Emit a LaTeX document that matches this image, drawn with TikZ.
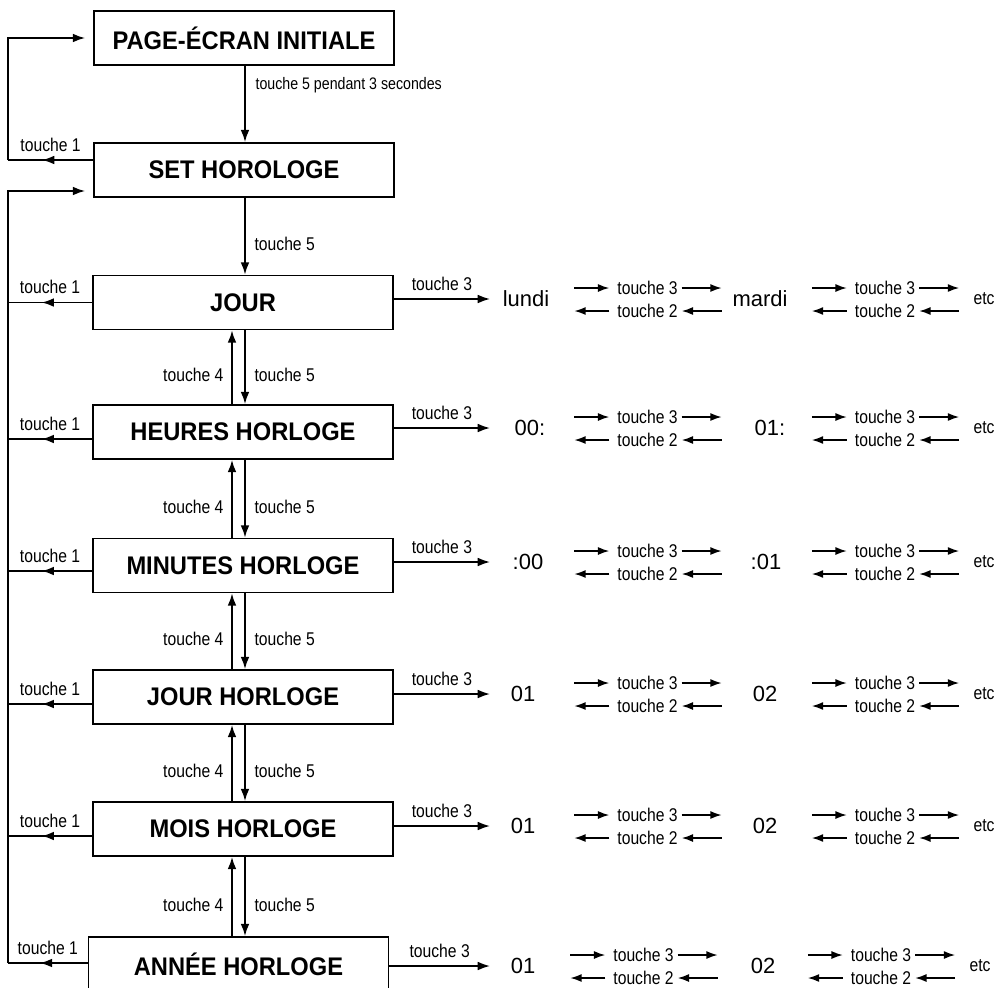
\documentclass[tikz,border=0pt]{standalone}
\usepackage{fontspec}
\setmainfont{Liberation Sans}
\newfontfamily\labfont[FakeStretch=0.85]{Liberation Sans}
\newfontfamily\ttlfont[FakeStretch=0.93]{Liberation Sans}
\usetikzlibrary{arrows.meta,decorations.markings,calc}
\begin{document}
\begin{tikzpicture}[x=0.02cm,y=-0.02cm,
  box/.style={draw,line width=1pt,minimum width=6cm,minimum height=1.08cm,inner sep=0pt,
    font=\ttlfont\bfseries\fontsize{14.5}{16}\selectfont},
  lab/.style={font=\labfont\fontsize{10.5}{12}\selectfont,inner sep=1pt},
  smalllab/.style={font=\labfont\fontsize{9.5}{11}\selectfont,inner sep=1pt},
  val/.style={font=\fontsize{12.5}{14}\selectfont,inner sep=1pt},
  arr/.style={line width=1pt,-{Latex[length=7pt,width=5pt]}},
  sarr/.style={line width=0.9pt,-{Latex[length=6.5pt,width=4.6pt]}},
  midarr/.style={line width=1pt,postaction={decorate},
    decoration={markings,mark=at position 0.6 with {\arrow{Latex[length=7pt,width=5pt]}}}}]
\useasboundingbox (0,0) rectangle (1000,987);
\fill[white] (0,0) rectangle (1000,987);
\clip (0,0) rectangle (1000,987);

% boxes
\node[box] (page) at (244,38) {PAGE-ÉCRAN INITIALE};
\node[box] (set) at (244,170) {SET HOROLOGE};
\node[box] (jour) at (243,302.5) {JOUR};
\node[box] (heures) at (243,432) {HEURES HORLOGE};
\node[box] (minutes) at (243,565.5) {MINUTES HORLOGE};
\node[box] (jourh) at (243,697) {JOUR HORLOGE};
\node[box] (mois) at (243,829) {MOIS HORLOGE};
\node[box] (annee) at (238.5,964) {ANNÉE HORLOGE};

% reference columns
\coordinate (xl) at (8,0);
\coordinate (xd) at (245,0);
\coordinate (xu) at (232,0);
\coordinate (xt) at (490,0);

% vertical arrows
\draw[arr] (xd |- page.south) -- (xd |- set.north)
  node[pos=0.25,anchor=west,xshift=0.16cm,smalllab] {touche 5 pendant 3 secondes};
\draw[arr] (xd |- set.south) -- (xd |- jour.north)
  node[pos=0.6,anchor=west,xshift=0.14cm,lab] {touche 5};
\foreach \a/\b in {jour/heures,heures/minutes,minutes/jourh,jourh/mois,mois/annee}{
  \draw[arr] (xd |- \a.south) -- (xd |- \b.north)
    node[pos=0.6,anchor=west,xshift=0.14cm,lab] {touche 5};
  \draw[arr] (xu |- \b.north) -- (xu |- \a.south)
    node[pos=0.4,anchor=east,xshift=-0.12cm,lab] {touche 4};
}

% touche 1 arrows and loops
\coordinate (s1) at ($(set.west)+(0,-10)$);
\coordinate (s2) at ($(set.west)+(0,21)$);
\draw[midarr] (s1) -- (xl |- s1) node[midway,above=0.12cm,lab] {touche 1};
\draw[arr,shorten >=0.16cm] (xl |- s1) -- (xl |- page.west) -- (page.west);
\foreach \n/\dy in {jour/0,heures/7,minutes/5.5,jourh/7,mois/7,annee/-1}{
  \coordinate (\n-t1) at ($(\n.west)+(0,\dy)$);
  \draw[midarr] (\n-t1) -- (xl |- \n-t1) node[midway,above=0.12cm,lab] {touche 1};
}
\draw[arr,shorten >=0.16cm] (xl |- annee-t1) -- (xl |- s2) -- (s2);

% touche 3 rows
\foreach \n/\r/\va/\xa/\vb/\xb/\dx in {
  jour/299/lundi/526/mardi/760/0,
  heures/428/00:/530/01:/770/0,
  minutes/562/:00/528/:01/766/0,
  jourh/694/01/523/02/765/0,
  mois/826/01/523/02/765/0,
  annee/966/01/523/02/763/-4}{
  \coordinate (\n-ry) at (0,\r);
  \draw[arr] (\n.east |- \n-ry) -- (xt |- \n-ry)
    node[midway,above=0.12cm,lab] {touche 3};
  \node[val] (\n-v1) at (\xa,\r) {\va};
  \node[val] (\n-v2) at (\xb,\r) {\vb};
  \node[lab] (\n-etc) at ({984+\dx},\r) {etc};
  \foreach \g/\cx in {1/647.5,2/885}{
    \node[lab] (\n-u\g) at ({\cx+\dx},{\r-11}) {touche 3};
    \node[lab] (\n-d\g) at ({\cx+\dx},{\r+12}) {touche 2};
    \draw[sarr] ($(\n-u\g.west)+(-41,0)$) -- ($(\n-u\g.west)+(-6,0)$);
    \draw[sarr] ($(\n-u\g.east)+(2,0)$) -- ($(\n-u\g.east)+(42,0)$);
    \draw[sarr] ($(\n-d\g.west)+(-6,0)$) -- ($(\n-d\g.west)+(-41,0)$);
    \draw[sarr] ($(\n-d\g.east)+(42,0)$) -- ($(\n-d\g.east)+(2,0)$);
  }
}
\end{tikzpicture}
\end{document}
